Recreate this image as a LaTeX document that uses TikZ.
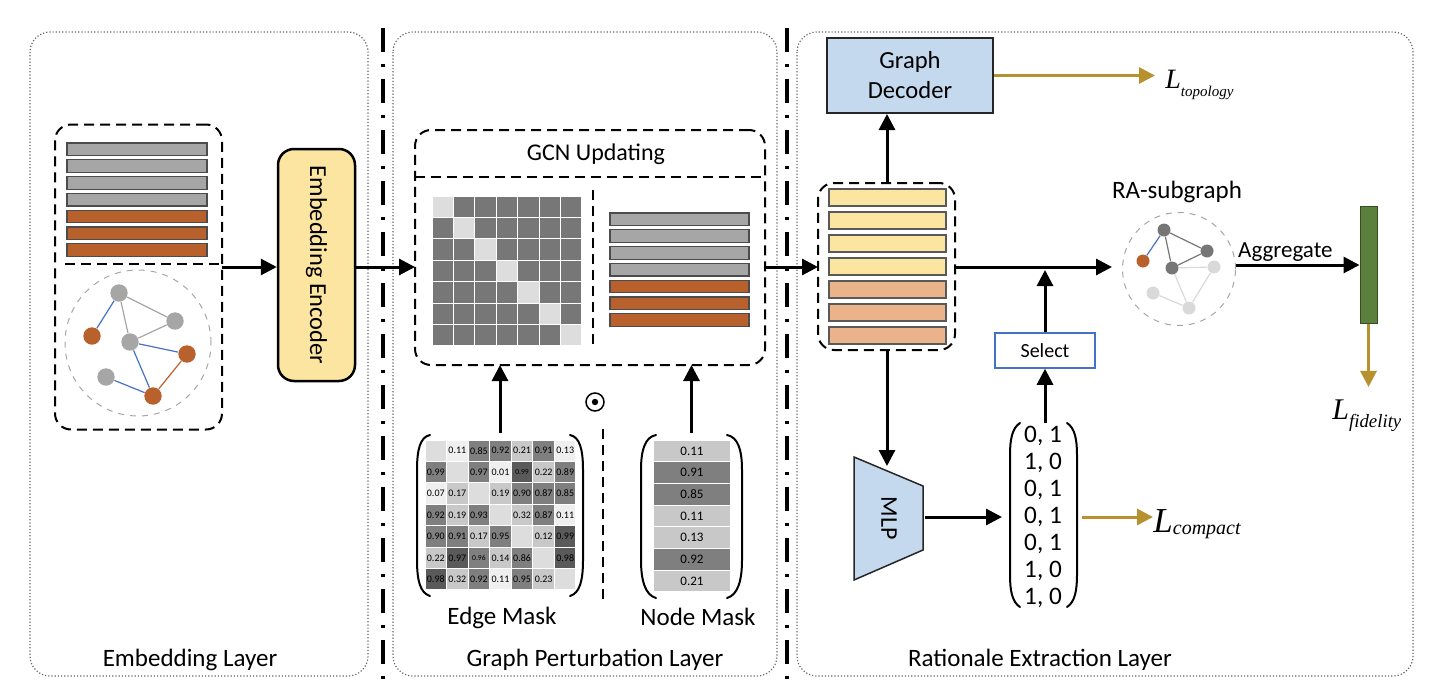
\documentclass[tikz,border=0pt]{standalone}
\usepackage{fontspec}
\setmainfont{Carlito}
\newfontfamily\tnr{Liberation Serif}
\usetikzlibrary{arrows.meta,calc}
\definecolor{encY}{HTML}{FBE5A0}
\definecolor{peach}{HTML}{EAB38A}
\definecolor{ltblue}{HTML}{C5D9EE}
\definecolor{barG}{HTML}{A6A6A6}
\definecolor{barO}{HTML}{B9612D}
\definecolor{gold}{HTML}{B8912F}
\definecolor{eblue}{HTML}{4472C4}
\definecolor{gGreen}{HTML}{5B7F3D}
\definecolor{mD}{HTML}{777777}
\definecolor{mE}{HTML}{DDDDDD}
\definecolor{cW}{HTML}{EFEFEF}
\definecolor{cL}{HTML}{C8C8C8}
\definecolor{cD}{HTML}{7F7F7F}
\definecolor{cK}{HTML}{5A5A5A}
\definecolor{rDark}{HTML}{767676}
\definecolor{rLight}{HTML}{D9D9D9}
\newcommand\smnum[1]{{\fontsize{3.8}{4}\selectfont #1}}
\begin{document}
\begin{tikzpicture}[x=0.5pt,y=-0.5pt,
  panel/.style={draw=black!60, densely dotted, line width=0.6pt, rounded corners=10pt},
  sepline/.style={draw=black, line width=2pt, dash pattern=on 12pt off 6pt on 1.5pt off 6pt},
  dashline/.style={draw=black, line width=1pt, dash pattern=on 5pt off 3pt},
  dbox/.style={dashline, rounded corners=8pt, inner sep=0, outer sep=0},
  arr/.style={draw=black, line width=1.5pt, -{Triangle[length=8pt,width=8pt]}},
  garr/.style={draw=gold, line width=1.5pt, -{Triangle[length=8pt,width=8pt]}},
  lbl/.style={font=\fontsize{12.5}{15}\selectfont, inner sep=0},
  gnode/.style={circle, inner sep=0, minimum size=8.7pt},
  rnode/.style={circle, inner sep=0, minimum size=6.5pt},
  paren/.style={draw=black, line width=1pt, line cap=round},
  bar/.style={draw=black!70, line width=0.6pt},
  cellnum/.style={inner sep=0, font=\fontsize{5}{6}\selectfont},
]
\useasboundingbox (0,0) rectangle (1440,696);

% ---------- panels ----------
\draw[panel] (30,32) rectangle (368,676);
\draw[panel] (393,32) rectangle (777,676);
\draw[panel] (797,32) rectangle (1413,676);
\draw[sepline] (383,28) -- (383,680);
\draw[sepline] (787,28) -- (787,680);

\node[lbl] (lab1) at (190,660) {Embedding Layer};
\node[lbl] (lab2) at (595,660) {Graph Perturbation Layer};
\node[lbl] (lab3) at (1040,660) {Rationale Extraction Layer};

% ---------- embedding layer ----------
\node[dbox, minimum width=83.5pt, minimum height=152.5pt] (emb) at (138.5,277) {};
\draw[dashline] (65,264) -- (emb.east |- 0,264);
\foreach \i/\col in {0/barG,1/barG,2/barG,3/barG,4/barO,5/barO,6/barO}
  \filldraw[bar, fill=\col] (67,{143+16.8*\i}) rectangle ++(140,12.5);

\node[circle, draw=gray!70, dashed, line width=0.5pt, minimum size=73pt, inner sep=0] (gc) at (138,343) {};
\node[gnode, fill=barG] (g1) at (119,293) {};
\node[gnode, fill=barG] (g2) at (175,321) {};
\node[gnode, fill=barO] (g3) at (92,336) {};
\node[gnode, fill=barG] (g4) at (130,342) {};
\node[gnode, fill=barO] (g5) at (187,354) {};
\node[gnode, fill=barG] (g6) at (106,377) {};
\node[gnode, fill=barO] (g7) at (153,396) {};
\draw[eblue, line width=0.6pt] (g1) -- (g3);
\draw[barG, line width=0.6pt] (g1) -- (g2);
\draw[barG, line width=0.6pt] (g1) -- (g4);
\draw[barG, line width=0.6pt] (g4) -- (g2);
\draw[eblue, line width=0.6pt] (g4) -- (g5);
\draw[eblue, line width=0.6pt] (g4) -- (g7);
\draw[barO, line width=0.6pt] (g5) -- (g7);
\draw[eblue, line width=0.6pt] (g6) -- (g7);

\node[draw=black, line width=1.25pt, fill=encY, rounded corners=8pt, minimum width=38.5pt, minimum height=116pt, inner sep=0] (enc) at (316.5,265) {};
\node[rotate=-90, font=\fontsize{12.2}{14}\selectfont, inner sep=0] (enctxt) at (enc.center) {Embedding Encoder};

\draw[arr] (emb.east |- 0,267) -- (enc.west |- 0,267);

% ---------- graph perturbation layer ----------
\node[dbox, minimum width=175pt, minimum height=117.5pt] (gcn) at (590,247.5) {};
\draw[dashline] (gcn.west |- 0,177) -- (gcn.east |- 0,177);
\node[font=\fontsize{12}{14}\selectfont, inner sep=0] (gcntitle) at (596,154) {GCN Updating};
\draw[dashline] (593,190) -- (593,346);
\draw[arr] (enc.east |- 0,267) -- (gcn.west |- 0,267);

\foreach \r in {0,...,6}{\foreach \c in {0,...,6}{
  \ifnum\r=\c \def\cc{mE}\else\def\cc{mD}\fi
  \filldraw[fill=\cc, draw=white, line width=0.6pt] ({432+21.43*\c},{196+21.43*\r}) rectangle ++(21.43,21.43);
}}
\foreach \i/\col in {0/barG,1/barG,2/barG,3/barG,4/barO,5/barO,6/barO}
  \filldraw[bar, fill=\col] (610,{213+16.8*\i}) rectangle ++(139,12.5);

% edge mask
\node[inner sep=0, minimum width=83pt, minimum height=82pt] (em) at (500,515) {};
\foreach \r/\c/\s/\t in {
 0/0/mE/{},0/1/cW/0.11,0/2/cD/0.85,0/3/cD/0.92,0/4/cL/0.21,0/5/cD/0.91,0/6/cW/0.13,
 1/0/cD/0.99,1/1/mE/{},1/2/cD/0.97,1/3/cW/0.01,1/4/cK/\smnum{0.99},1/5/cL/0.22,1/6/cD/0.89,
 2/0/cW/0.07,2/1/cL/0.17,2/2/mE/{},2/3/cL/0.19,2/4/cD/0.90,2/5/cD/0.87,2/6/cD/0.85,
 3/0/cD/0.92,3/1/cL/0.19,3/2/cD/0.93,3/3/mE/{},3/4/cL/0.32,3/5/cD/0.87,3/6/cW/0.11,
 4/0/cD/0.90,4/1/cD/0.91,4/2/cL/0.17,4/3/cD/0.95,4/4/mE/{},4/5/cL/0.12,4/6/cK/0.99,
 5/0/cL/0.22,5/1/cK/0.97,5/2/cD/\smnum{0.96},5/3/cL/0.14,5/4/cD/0.86,5/5/mE/{},5/6/cK/0.98,
 6/0/cK/0.98,6/1/cL/0.32,6/2/cD/0.92,6/3/cW/0.11,6/4/cD/0.95,6/5/cL/0.23,6/6/mE/{}}{
  \filldraw[fill=\s, draw=white, line width=0.6pt] ({425+21.57*\c},{440+21.43*\r}) rectangle ++(21.57,21.43);
  \node[cellnum] (em\r\c) at ({425+21.57*(\c+0.5)},{440+21.43*(\r+0.5)}) {\t};
}
\draw[paren] (430,435) .. controls (420,437) and (417,450) .. (417,470) -- (417,560) .. controls (417,580) and (420,593) .. (430,596);
\draw[paren] (570,435) .. controls (580,437) and (583,450) .. (583,470) -- (583,560) .. controls (583,580) and (580,593) .. (570,596);
\node[lbl] (emlab) at (502,618) {Edge Mask};
\draw[arr] (em.north) -- (em.north |- gcn.south);

% node mask
\node[inner sep=0, minimum width=50.5pt, minimum height=82pt] (nm) at (691.5,515) {};
\foreach \r/\s/\t in {0/cL/0.11,1/cD/0.91,2/cD/0.85,3/cL/0.11,4/cL/0.13,5/cD/0.92,6/cL/0.21}{
  \filldraw[fill=\s, draw=white, line width=0.6pt] (653,{440+21.7*\r}) rectangle ++(78,21.7);
  \node[inner sep=0, font=\fontsize{6.5}{7}\selectfont] (nm\r) at (692,{440+21.7*(\r+0.5)}) {\t};
}
\draw[paren] (656,435) .. controls (645,437) and (641,450) .. (641,470) -- (641,560) .. controls (641,580) and (645,595) .. (656,598);
\draw[paren] (727,435) .. controls (738,437) and (742,450) .. (742,470) -- (742,560) .. controls (742,580) and (738,595) .. (727,598);
\node[lbl] (nmlab) at (698,617) {Node Mask};
\draw[arr] (nm.north) -- (nm.north |- gcn.south);

\draw[dashline] (603,429) -- (603,600);
\node[circle, draw=black, line width=0.75pt, minimum size=9pt, inner sep=0] (odot) at (595,402) {};
\fill (odot.center) circle (1.6pt);

% ---------- rationale extraction layer ----------
\node[draw=black!85, fill=ltblue, line width=1pt, minimum width=83pt, minimum height=37.5pt, align=center, inner sep=0, font=\fontsize{12.3}{15}\selectfont] (dec) at (910,75.5) {Graph\\Decoder};

\node[dbox, minimum width=68.5pt, minimum height=83.5pt] (feat) at (886.5,266.5) {};
\foreach \i/\col in {0/encY,1/encY,2/encY,3/encY,4/peach,5/peach,6/peach}
  \filldraw[draw=black!65, line width=0.6pt, fill=\col] (829,{189+23*\i}) rectangle ++(117,17);

\draw[arr] (gcn.east |- 0,267) -- (feat.west |- 0,267);
\draw[arr] (feat.north -| 887,0) -- (dec.south -| 887,0);

% RA subgraph
\node[font=\fontsize{12.5}{15}\selectfont, inner sep=0] (ralab) at (1177,192) {RA-subgraph};
\node[circle, draw=gray!70, dashed, line width=0.5pt, minimum size=56.5pt, inner sep=0] (ra) at (1179,269) {};
\node[rnode, fill=rDark] (r1) at (1164,230) {};
\node[rnode, fill=rDark] (r2) at (1207,251) {};
\node[rnode, fill=barO] (r3) at (1143,261) {};
\node[rnode, fill=rDark] (r4) at (1172,268) {};
\node[rnode, fill=rLight] (r5) at (1214,267) {};
\node[rnode, fill=rLight] (r6) at (1153,293) {};
\node[rnode, fill=rLight] (r7) at (1189,308) {};
\draw[eblue, line width=0.6pt] (r1) -- (r3);
\draw[rDark, line width=0.6pt] (r1) -- (r2);
\draw[rDark, line width=0.6pt] (r1) -- (r4);
\draw[rDark, line width=0.6pt] (r4) -- (r2);
\draw[rLight, line width=0.6pt] (r4) -- (r5);
\draw[rLight, line width=0.6pt] (r4) -- (r7);
\draw[rLight, line width=0.6pt] (r5) -- (r7);
\draw[rLight, line width=0.6pt] (r6) -- (r7);

\draw[arr, shorten >=5pt] (feat.east |- 0,267) -- (ra.west |- 0,267);

\node[draw=gGreen!60!black, fill=gGreen, line width=0.5pt, minimum width=8.5pt, minimum height=58.5pt, inner sep=0] (agg) at (1368.5,264.5) {};
\draw[arr] (ra.east |- 0,265) -- (agg.west |- 0,265) node[pos=0.4, above=1pt, font=\fontsize{11.5}{14}\selectfont, inner sep=0] (agglab) {Aggregate};

\node[draw=eblue, line width=0.75pt, fill=white, minimum width=50pt, minimum height=17.5pt, inner sep=0, font=\fontsize{10}{12}\selectfont] (sel) at (1045,350.5) {Select};
\draw[arr] (sel.north) -- (sel.north |- 0,270);

% MLP
\draw[fill=ltblue, draw=black!85, line width=0.75pt] (854,457) -- (923,486) -- (923,550) -- (854,580) -- cycle;
\node[rotate=-90, font=\fontsize{12}{14}\selectfont, inner sep=0] (mlptxt) at (889,518) {MLP};
\coordinate (mlpN) at (887,466);
\coordinate (mlpE) at (925,517);
\draw[arr] (feat.south -| 887,0) -- (mlpN);

% vector
\node[align=center, font=\fontsize{12.6}{13.5}\selectfont, inner sep=0] (vec) at (1043,517) {0, 1\\1, 0\\0, 1\\0, 1\\0, 1\\1, 0\\1, 0};
\draw[paren] (1020,423) .. controls (1012,428) and (1010,440) .. (1010,455) -- (1010,575) .. controls (1010,590) and (1012,602) .. (1020,607);
\draw[paren] (1067,423) .. controls (1075,428) and (1077,440) .. (1077,455) -- (1077,575) .. controls (1077,590) and (1075,602) .. (1067,607);
\coordinate (vecTop) at (1045,423);
\coordinate (vecW) at (1002,517);
\coordinate (vecE) at (1082,517);
\draw[arr] (mlpE) -- (vecW);
\draw[arr] (vecTop) -- (sel.south);

% losses
\node[anchor=base west, inner sep=0] (Ltop) at (1165,88) {\tnr\itshape\fontsize{14}{14}\selectfont L\raisebox{-4pt}{\fontsize{7.5}{8}\selectfont topology}};
\node[anchor=base west, inner sep=0] (Lcomp) at (1153,532) {\tnr\itshape\fontsize{17.5}{18}\selectfont L\raisebox{-1pt}{\fontsize{10}{11}\selectfont compact}};
\node[anchor=base west, inner sep=0] (Lfid) at (1332,419) {\tnr\itshape\fontsize{15}{16}\selectfont L\raisebox{-4pt}{\fontsize{9.4}{10}\selectfont fidelity}};
\draw[garr, shorten >=5pt] (dec.east) -- (dec.east -| Ltop.west);
\draw[garr] (vecE) -- (vecE -| Lcomp.west);
\draw[garr, shorten >=6pt] (agg.south) -- (agg.south |- Lfid.north);
\end{tikzpicture}
\end{document}
